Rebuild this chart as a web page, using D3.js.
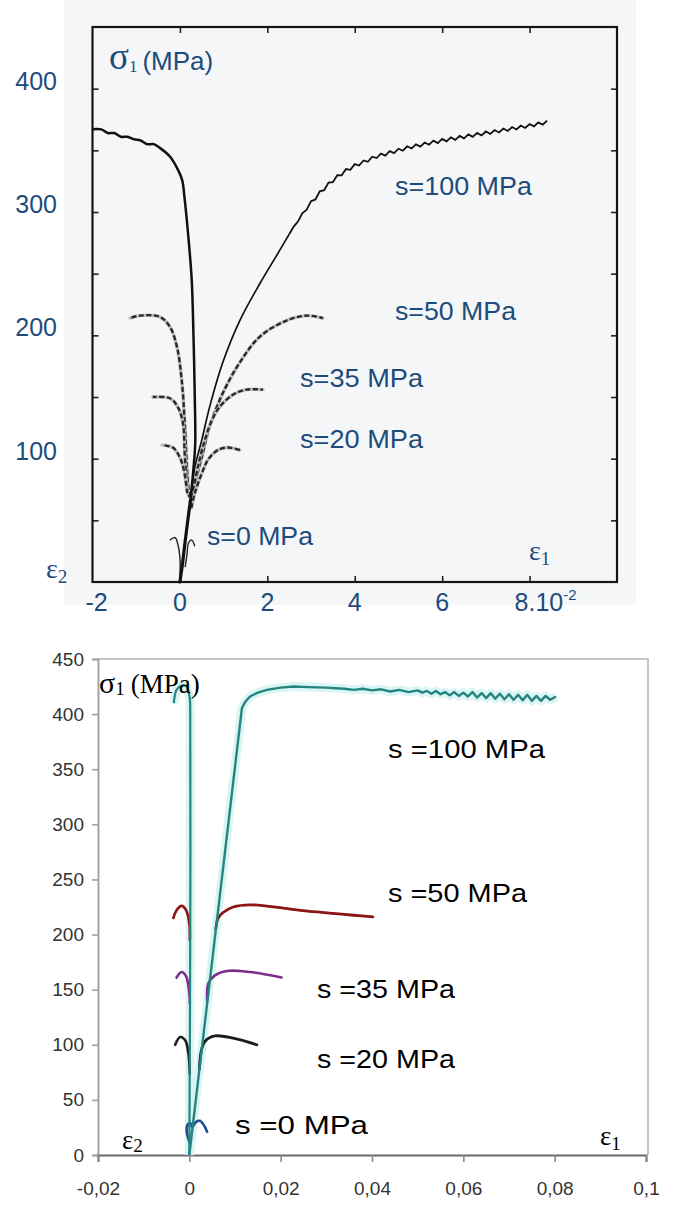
<!DOCTYPE html>
<html>
<head>
<meta charset="utf-8">
<script src="https://cdn.jsdelivr.net/npm/d3@7"></script>
<style>
  html, body { margin: 0; padding: 0; background: #ffffff; }
  svg { display: block; }
</style>
</head>
<body>
<svg id="chart" width="686" height="1205"></svg>
<script>
// ===================== DATA =====================
// Upper chart: strain in units of 1e-2, stress sigma1 in MPa
const topYTicks = [50, 100, 150, 200, 250, 300, 350, 400];
const topXTicks = [0, 2, 4, 6, 8];
const topYLabels = [100, 200, 300, 400];
const topXLabels = [-2, 0, 2, 4, 6];
const topXLastLabel = { value: 8, base: "8.10", sup: "-2" };

// common loading trunk near the origin
const topTrunk = [[0, 0], [0.06, 15], [0.12, 33], [0.18, 50], [0.24, 66]];

// s = 100 MPa
const topS100E2 = [[0.24, 66], [0.31, 92], [0.35, 112], [0.34, 150], [0.31, 200], [0.27, 245],
  [0.18, 285], [0.11, 310], [0.05, 326], [-0.07, 336], [-0.23, 345], [-0.46, 352], [-0.6, 355],
  [-0.75, 355], [-0.9, 358], [-1.05, 359], [-1.2, 361], [-1.35, 361], [-1.5, 364], [-1.65, 364],
  [-1.8, 367], [-2.0, 367]];
const topS100E1 = [[0.24, 66], [0.34, 93], [0.5, 115], [0.68, 142], [0.98, 178], [1.37, 212],
  [1.83, 242], [2.2, 264], [2.4, 276], [2.5, 282],
  [2.6, 288], [2.7, 292.2], [2.8, 299], [2.9, 301.9], [3.0, 308.8], [3.1, 310.2],
  [3.2, 316.8], [3.3, 317.7], [3.4, 323.8], [3.5, 324.2], [3.6, 329.8], [3.7, 329.7],
  [3.8, 334.8], [3.9, 334.2], [4.0, 338.8], [4.1, 337.7], [4.2, 341.8], [4.3, 340.7],
  [4.4, 344.8], [4.5, 343.7], [4.6, 347.3], [4.7, 345.7], [4.8, 349.3], [4.9, 347.7],
  [5.0, 351.3], [5.1, 349.7], [5.2, 353.3], [5.3, 351.5], [5.4, 354.8], [5.5, 353],
  [5.6, 356.3], [5.7, 354.5], [5.8, 357.8], [5.9, 355.9], [6.0, 359.3], [6.1, 357.3],
  [6.2, 360.5], [6.3, 358.5], [6.4, 361.7], [6.5, 359.7], [6.6, 362.9], [6.7, 360.9],
  [6.8, 364.1], [6.9, 362.1], [7.0, 365.3], [7.1, 363.3], [7.2, 366.5], [7.3, 364.5],
  [7.4, 367.7], [7.5, 365.7], [7.6, 368.9], [7.7, 366.9], [7.8, 370.1], [7.9, 368.1],
  [8.0, 371.3], [8.1, 369.4], [8.2, 372.7], [8.3, 370.8], [8.4, 374.1]];

// s = 50 MPa
const topS50E1 = [[0.23, 64], [0.34, 80], [0.5, 101], [0.68, 126], [0.98, 153], [1.37, 178],
  [1.83, 199], [2.44, 212], [2.9, 216], [3.27, 214]];
const topS50E2 = [[0.21, 69], [0.16, 93], [0.11, 129], [0.04, 164], [-0.07, 191], [-0.23, 207],
  [-0.46, 215], [-0.91, 216], [-1.14, 214]];
// s = 35 MPa
const topS35E1 = [[0.27, 68], [0.41, 93], [0.57, 115], [0.73, 131], [0.91, 142], [1.22, 152],
  [1.52, 156], [1.9, 156]];
const topS35E2 = [[0.17, 72], [0.11, 104], [0.07, 129], [-0.05, 142], [-0.23, 149], [-0.62, 150]];
// s = 20 MPa
const topS20E1 = [[0.26, 60], [0.34, 72], [0.5, 88], [0.64, 99], [0.87, 107], [1.1, 109], [1.37, 107]];
const topS20E2 = [[0.17, 72], [0.09, 91], [0.0, 101], [-0.16, 109], [-0.41, 111]];
// s = 0 MPa
const topS0E1 = [[0.12, 12], [0.16, 22], [0.2, 32], [0.27, 34], [0.34, 29]];
const topS0E2 = [[0.0, 3], [0.0, 20], [-0.05, 31], [-0.11, 36], [-0.23, 34]];

// Lower chart: strain (absolute), stress sigma1 in MPa
const botYTicks = [0, 50, 100, 150, 200, 250, 300, 350, 400, 450];
const botXTicks = [-0.02, 0, 0.02, 0.04, 0.06, 0.08, 0.1];
const botXTickText = ["-0,02", "0", "0,02", "0,04", "0,06", "0,08", "0,1"];

// s = 100 MPa
const botS100E2 = [[0, 0], [0.0002, 200], [0.0002, 400], [0.0001, 414], [-0.0006, 425],
  [-0.0017, 426], [-0.0028, 422], [-0.0034, 410]];
const botS100E1 = [[0, 0], [0.0115, 405], [0.0122, 411], [0.0133, 416], [0.015, 419.5],
  [0.017, 422], [0.02, 424], [0.0228, 425], [0.026, 424.5], [0.03, 424], [0.032, 423.5],
  [0.034, 423], [0.036, 422], [0.038, 423], [0.04, 421.5], [0.042, 422.5], [0.044, 420.5],
  [0.046, 422], [0.048, 420], [0.05, 421.5], [0.051, 419.5], [0.052, 421], [0.053, 418.5],
  [0.054, 421], [0.055, 418], [0.056, 420], [0.057, 417], [0.058, 420], [0.059, 416.5],
  [0.06, 419.5], [0.061, 416], [0.062, 420], [0.063, 415], [0.064, 419], [0.065, 414.5],
  [0.066, 419], [0.067, 414], [0.068, 418.5], [0.069, 413.5], [0.07, 418], [0.071, 413],
  [0.072, 417.5], [0.073, 412.5], [0.074, 417.5], [0.075, 412], [0.076, 416.5], [0.077, 412],
  [0.078, 416.5], [0.079, 413], [0.0803, 416]];
// s = 50 MPa
const botS50E2 = [[0.0001, 195], [0.0, 210], [-0.0007, 222], [-0.0017, 226], [-0.0028, 222], [-0.0035, 215]];
const botS50E1 = [[0.0058, 205], [0.0063, 215], [0.0074, 220], [0.0096, 225], [0.0133, 227],
  [0.0206, 224], [0.0243, 222], [0.028, 220.5], [0.032, 219], [0.036, 217.5], [0.0402, 216]];
// s = 35 MPa
const botS35E2 = [[0.0001, 138], [0.0, 147], [-0.0007, 162], [-0.0017, 166], [-0.0028, 161]];
const botS35E1 = [[0.0039, 140], [0.0042, 156], [0.0056, 163], [0.0082, 167], [0.0133, 166], [0.0202, 161]];
// s = 20 MPa
const botS20E2 = [[0.0001, 74], [-0.0002, 92], [-0.0009, 104], [-0.002, 107], [-0.0031, 100]];
const botS20E1 = [[0.0022, 78], [0.0026, 94], [0.0034, 103], [0.0056, 108], [0.0096, 106], [0.0148, 100]];
// s = 0 MPa
const botS0E2 = [[0.0, 12], [-0.0006, 22], [-0.0003, 28], [0.0002, 29], [0.0005, 26]];
const botS0E1 = [[0.0008, 26], [0.0015, 30], [0.0023, 31], [0.0032, 27], [0.0039, 21]];

// ===================== DRAWING =====================
const svg = d3.select("#chart");
const SANS = "'Liberation Sans', Arial, Helvetica, sans-serif";
const SERIF = "'Liberation Serif', 'Times New Roman', serif";
const BLUE = "#1d4c7c";

// smooth head of a record up to `cut`, raw (serrated) tail from `cut` on
const splitAt = (data, cut) => [data.filter(d => d[0] <= cut), data.filter(d => d[0] >= cut)];

// ---------- upper chart (scanned test record) ----------
const xT = d3.scaleLinear().domain([-2, 10]).range([92.5, 617]);
const yT = d3.scaleLinear().domain([0, 450]).range([582, 27]);

const upper = svg.append("g").attr("class", "upper");
upper.append("rect").attr("x", 64).attr("y", 0).attr("width", 572).attr("height", 605)
  .attr("fill", "#f5f6f8");

// inward ticks on all four sides
const tickStyle = g => {
  g.select(".domain").remove();
  g.selectAll(".tick line").attr("stroke", "#222").attr("stroke-width", 1.6);
  g.selectAll(".tick text").remove();
};
upper.append("g").attr("transform", `translate(${xT.range()[0]},0)`)
  .call(d3.axisLeft(yT).tickValues(topYTicks).tickSize(-6)).call(tickStyle);
upper.append("g").attr("transform", `translate(${xT.range()[1]},0)`)
  .call(d3.axisRight(yT).tickValues(topYTicks).tickSize(-6)).call(tickStyle);
upper.append("g").attr("transform", `translate(0,${yT.range()[1]})`)
  .call(d3.axisTop(xT).tickValues(topXTicks).tickSize(-6)).call(tickStyle);
upper.append("g").attr("transform", `translate(0,${yT.range()[0]})`)
  .call(d3.axisBottom(xT).tickValues(topXTicks).tickSize(-6)).call(tickStyle);

upper.append("rect")
  .attr("x", xT.range()[0]).attr("y", yT.range()[1])
  .attr("width", xT.range()[1] - xT.range()[0]).attr("height", yT.range()[0] - yT.range()[1])
  .attr("fill", "none").attr("stroke", "#151515").attr("stroke-width", 2.2);

const lineT = d3.line().x(d => xT(d[0])).y(d => yT(d[1]));
const smoothT = d3.line().x(d => xT(d[0])).y(d => yT(d[1])).curve(d3.curveCatmullRom.alpha(0.5));

// dashed curves for s = 50, 35, 20 MPa (grey halo under dark dashes)
[topS50E1, topS50E2, topS35E1, topS35E2, topS20E1, topS20E2].forEach(s => {
  upper.append("path").attr("d", smoothT(s)).attr("fill", "none")
    .attr("stroke", "#bdbdbd").attr("stroke-width", 3.4).attr("stroke-linecap", "round");
  upper.append("path").attr("d", smoothT(s)).attr("fill", "none")
    .attr("stroke", "#2a2a2a").attr("stroke-width", 2.4).attr("stroke-dasharray", "5,2.5");
});

// s = 0 MPa
[topS0E1, topS0E2].forEach(s => {
  upper.append("path").attr("d", smoothT(s)).attr("fill", "none")
    .attr("stroke", "#222").attr("stroke-width", 1.4);
});

// s = 100 MPa, solid
upper.append("path").attr("d", smoothT(topS100E2)).attr("fill", "none")
  .attr("stroke", "#111").attr("stroke-width", 2.5).attr("stroke-linejoin", "round");
const [t100Head, t100Tail] = splitAt(topS100E1, 2.5);
upper.append("path").attr("d", smoothT(t100Head)).attr("fill", "none")
  .attr("stroke", "#111").attr("stroke-width", 1.7);
upper.append("path").attr("d", lineT(t100Tail)).attr("fill", "none")
  .attr("stroke", "#111").attr("stroke-width", 1.8).attr("stroke-linejoin", "miter");
upper.append("path").attr("d", lineT(topTrunk)).attr("fill", "none")
  .attr("stroke", "#111").attr("stroke-width", 3.2).attr("stroke-linecap", "round");

// axis numbers
upper.selectAll("text.ylab").data(topYLabels).join("text")
  .attr("class", "ylab").attr("x", 57).attr("y", d => yT(d) + 1)
  .attr("text-anchor", "end").attr("font-family", SANS).attr("font-size", 25)
  .attr("fill", BLUE).text(d => d);
upper.selectAll("text.xlab").data(topXLabels).join("text")
  .attr("class", "xlab").attr("x", d => xT(d) + (d === -2 ? 4 : 0)).attr("y", 611)
  .attr("text-anchor", "middle").attr("font-family", SANS).attr("font-size", 25)
  .attr("fill", BLUE).text(d => d);
const lastLab = upper.append("text").attr("x", xT(topXLastLabel.value) - 15).attr("y", 611)
  .attr("font-family", SANS).attr("font-size", 25).attr("fill", BLUE);
lastLab.append("tspan").text(topXLastLabel.base);
lastLab.append("tspan").attr("font-size", 15).attr("dy", -11).text(topXLastLabel.sup);

// axis titles
const sigT = upper.append("text").attr("x", 109).attr("y", 69).attr("fill", BLUE);
sigT.append("tspan").attr("font-family", SERIF).attr("font-size", 37).text("σ");
sigT.append("tspan").attr("font-family", SERIF).attr("font-size", 17).attr("dy", 3).text("1");
sigT.append("tspan").attr("font-family", SANS).attr("font-size", 26).attr("dy", -2).attr("dx", 5).text("(MPa)");

const e1T = upper.append("text").attr("x", 529).attr("y", 560).attr("fill", BLUE).attr("font-family", SERIF);
e1T.append("tspan").attr("font-size", 28).text("ε");
e1T.append("tspan").attr("font-size", 19).attr("dy", 5).text("1");
const e2T = upper.append("text").attr("x", 46).attr("y", 578).attr("fill", BLUE).attr("font-family", SERIF);
e2T.append("tspan").attr("font-size", 28).text("ε");
e2T.append("tspan").attr("font-size", 19).attr("dy", 5).text("2");

// curve names
const topNames = [
  { t: "s=100 MPa", x: 395, y: 195, w: 137 },
  { t: "s=50 MPa", x: 395, y: 320, w: 121 },
  { t: "s=35 MPa", x: 300, y: 387, w: 123 },
  { t: "s=20 MPa", x: 300, y: 448, w: 123 },
  { t: "s=0 MPa", x: 207, y: 545, w: 106 }
];
upper.selectAll("text.name").data(topNames).join("text")
  .attr("class", "name").attr("x", d => d.x).attr("y", d => d.y)
  .attr("font-family", SANS).attr("font-size", 25.5).attr("fill", BLUE)
  .attr("textLength", d => d.w).attr("lengthAdjust", "spacingAndGlyphs")
  .text(d => d.t);

// ---------- lower chart (spreadsheet plot) ----------
const xB = d3.scaleLinear().domain([-0.02, 0.1]).range([98, 646]);
const yB = d3.scaleLinear().domain([0, 450]).range([1155, 659]);

const lower = svg.append("g").attr("class", "lower");

// plot area outline (top and right)
lower.append("path")
  .attr("d", `M${xB.range()[0]},${yB.range()[1]} H${xB.range()[1] + 2} V${yB.range()[0]}`)
  .attr("fill", "none").attr("stroke", "#c6c6c6").attr("stroke-width", 2);

const yAxisB = lower.append("g").attr("transform", `translate(${xB.range()[0]},0)`)
  .call(d3.axisLeft(yB).tickValues(botYTicks).tickSize(6).tickPadding(8));
yAxisB.select(".domain").attr("stroke", "#a3a3a3").attr("stroke-width", 2);
yAxisB.selectAll(".tick line").attr("stroke", "#a3a3a3").attr("stroke-width", 1.6);
yAxisB.selectAll(".tick text").attr("font-family", SANS).attr("font-size", 19)
  .attr("fill", "#333");

const xAxisB = lower.append("g").attr("transform", `translate(0,${yB.range()[0]})`)
  .call(d3.axisBottom(xB).tickValues(botXTicks).tickSize(7).tickPadding(20)
    .tickFormat((d, i) => botXTickText[i]));
xAxisB.select(".domain").attr("stroke", "#6a6a6a").attr("stroke-width", 2);
xAxisB.selectAll(".tick line").attr("stroke", "#8a8a8a").attr("stroke-width", 1.6);
xAxisB.selectAll(".tick text").attr("font-family", SANS).attr("font-size", 19)
  .attr("fill", "#333");

const smoothB = d3.line().x(d => xB(d[0])).y(d => yB(d[1])).curve(d3.curveCatmullRom.alpha(0.5));
const lineB = d3.line().x(d => xB(d[0])).y(d => yB(d[1]));

// light cyan glow under the s = 100 MPa curves
[botS100E2, botS100E1].forEach(s => {
  lower.append("path").attr("d", lineB(s)).attr("fill", "none")
    .attr("stroke", "#d2f3f3").attr("stroke-width", 9).attr("stroke-linejoin", "round")
    .attr("opacity", 0.8);
});

const botSeries = [
  { d: botS50E2, c: "#8c1414", w: 2.6 }, { d: botS50E1, c: "#8c1414", w: 2.8 },
  { d: botS35E2, c: "#7d2d8e", w: 2.6 }, { d: botS35E1, c: "#7d2d8e", w: 2.6 },
  { d: botS20E2, c: "#1c1c1c", w: 2.6 }, { d: botS20E1, c: "#1c1c1c", w: 2.8 },
  { d: botS0E2, c: "#1f4f9e", w: 2.6 }, { d: botS0E1, c: "#1f4f9e", w: 2.6 }
];
botSeries.forEach(s => {
  lower.append("path").attr("d", smoothB(s.d)).attr("fill", "none")
    .attr("stroke", s.c).attr("stroke-width", s.w).attr("stroke-linecap", "round");
});

lower.append("path").attr("d", smoothB(botS100E2)).attr("fill", "none")
  .attr("stroke", "#24857f").attr("stroke-width", 2.2).attr("stroke-linejoin", "round");
lower.append("path").attr("d", lineB(botS100E1)).attr("fill", "none")
  .attr("stroke", "#24857f").attr("stroke-width", 2.4).attr("stroke-linejoin", "round");

// axis titles
const sigB = lower.append("text").attr("x", 99).attr("y", 693).attr("fill", "#000").attr("font-family", SERIF);
sigB.append("tspan").attr("font-size", 30).text("σ");
sigB.append("tspan").attr("font-size", 19).attr("dy", 2).text("1");
sigB.append("tspan").attr("font-size", 27).attr("dy", -2).attr("dx", 6).text("(MPa)");

const e1B = lower.append("text").attr("x", 600).attr("y", 1145).attr("fill", "#000").attr("font-family", SERIF);
e1B.append("tspan").attr("font-size", 27).text("ε");
e1B.append("tspan").attr("font-size", 19).attr("dy", 5).text("1");
const e2B = lower.append("text").attr("x", 122).attr("y", 1149).attr("fill", "#000").attr("font-family", SERIF);
e2B.append("tspan").attr("font-size", 27).text("ε");
e2B.append("tspan").attr("font-size", 19).attr("dy", 3).text("2");

const botNames = [
  { t: "s =100 MPa", x: 388, y: 758, w: 157 },
  { t: "s =50 MPa", x: 388, y: 902, w: 139 },
  { t: "s =35 MPa", x: 317, y: 998, w: 138 },
  { t: "s =20 MPa", x: 317, y: 1068, w: 138 },
  { t: "s =0 MPa", x: 235, y: 1134, w: 133 }
];
lower.selectAll("text.name").data(botNames).join("text")
  .attr("class", "name").attr("x", d => d.x).attr("y", d => d.y)
  .attr("font-family", SANS).attr("font-size", 26).attr("fill", "#000")
  .attr("textLength", d => d.w).attr("lengthAdjust", "spacingAndGlyphs")
  .text(d => d.t);
</script>
</body>
</html>
